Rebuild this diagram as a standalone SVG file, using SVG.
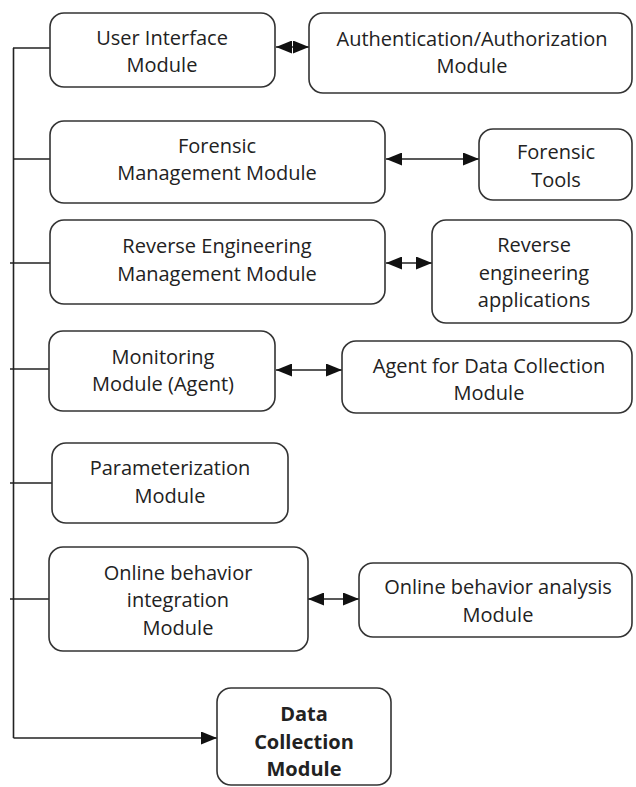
<svg xmlns="http://www.w3.org/2000/svg" width="636" height="787" viewBox="0 0 636 787">
<defs>
<marker id="ah" viewBox="0 0 16 13" refX="16" refY="6.5" markerWidth="16" markerHeight="13" markerUnits="userSpaceOnUse" orient="auto-start-reverse">
<path d="M0,0 L16,6.5 L0,13 z" fill="#111"/>
</marker>
<style>
.n{fill:#fff;stroke:#333;stroke-width:1.6}
text{font-family:"Open Sans","Noto Sans","Liberation Sans",sans-serif;font-size:20px;fill:#222;text-anchor:middle}
.b{font-weight:bold}
.c{fill:none;stroke:#222;stroke-width:1.6}
</style>
</defs>
<rect width="636" height="787" fill="#fff"/>
<g id="connectors">
<path class="c" d="M13.5,48 V738"/>
<path class="c" d="M13,48 H50"/>
<path class="c" d="M13,159 H50"/>
<path class="c" d="M10,263 H50"/>
<path class="c" d="M10,369 H49"/>
<path class="c" d="M10,483 H52"/>
<path class="c" d="M10,599 H49"/>
<path class="c" d="M13.5,738 H217" marker-end="url(#ah)"/>
<path class="c" d="M276,47 H309" marker-start="url(#ah)" marker-end="url(#ah)"/>
<path class="c" d="M386,159 H479" marker-start="url(#ah)" marker-end="url(#ah)"/>
<path class="c" d="M386,263 H432" marker-start="url(#ah)" marker-end="url(#ah)"/>
<path class="c" d="M276,370 H342" marker-start="url(#ah)" marker-end="url(#ah)"/>
<path class="c" d="M308,599 H359" marker-start="url(#ah)" marker-end="url(#ah)"/>
</g>
<g id="ui">
<rect class="n" x="50" y="13" width="225" height="74" rx="14"/>
<text x="162" y="45">User Interface</text>
<text x="162" y="72">Module</text>
</g>
<g id="auth">
<rect class="n" x="309" y="13" width="323" height="80" rx="14"/>
<text x="472" y="46">Authentication/Authorization</text>
<text x="472" y="73">Module</text>
</g>
<g id="forensic-mgmt">
<rect class="n" x="50" y="121" width="335" height="82" rx="14"/>
<text x="217" y="153">Forensic</text>
<text x="217" y="180">Management Module</text>
</g>
<g id="forensic-tools">
<rect class="n" x="479" y="129" width="153" height="71" rx="14"/>
<text x="556" y="159">Forensic</text>
<text x="556" y="187">Tools</text>
</g>
<g id="re-mgmt">
<rect class="n" x="50" y="220" width="335" height="84" rx="14"/>
<text x="217" y="253">Reverse Engineering</text>
<text x="217" y="281">Management Module</text>
</g>
<g id="re-apps">
<rect class="n" x="432" y="220" width="200" height="103" rx="14"/>
<text x="534" y="252">Reverse</text>
<text x="534" y="279.5">engineering</text>
<text x="534" y="307">applications</text>
</g>
<g id="monitoring">
<rect class="n" x="49" y="331" width="226" height="80" rx="14"/>
<text x="163" y="364">Monitoring</text>
<text x="163" y="391">Module (Agent)</text>
</g>
<g id="agent">
<rect class="n" x="342" y="341" width="290" height="72" rx="14"/>
<text x="489" y="373">Agent for Data Collection</text>
<text x="489" y="400">Module</text>
</g>
<g id="param">
<rect class="n" x="52" y="443" width="236" height="80" rx="14"/>
<text x="170" y="475">Parameterization</text>
<text x="170" y="503">Module</text>
</g>
<g id="online-integration">
<rect class="n" x="49" y="547" width="259" height="104" rx="14"/>
<text x="178" y="579.5">Online behavior</text>
<text x="178" y="607">integration</text>
<text x="178" y="634.5">Module</text>
</g>
<g id="online-analysis">
<rect class="n" x="359" y="563" width="273" height="74" rx="14"/>
<text x="498" y="594">Online behavior analysis</text>
<text x="498" y="622">Module</text>
</g>
<g id="data-collection">
<rect class="n" x="217" y="688" width="174" height="97" rx="14"/>
<text class="b" x="304" y="721">Data</text>
<text class="b" x="304" y="748.5">Collection</text>
<text class="b" x="304" y="776">Module</text>
</g>
</svg>
